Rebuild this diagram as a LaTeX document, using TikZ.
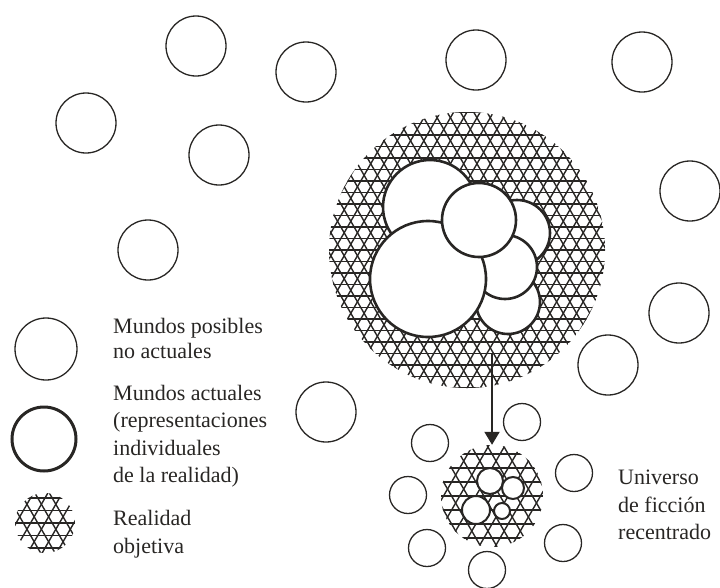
\documentclass[tikz,border=0pt]{standalone}
\usepackage{fontspec}
\setmainfont{Liberation Serif}
\usetikzlibrary{arrows.meta}
\definecolor{ink}{RGB}{40,38,36}
\newcommand\meshfill[3]{%
  \begin{scope}
    \clip (#1) circle (#2);
    \foreach \a/\o in {0/0,60/0,120/0.5}{%
      \begin{scope}[shift={(#1)},rotate=\a]
        \foreach \i in {-24,...,24}
          \draw[meshline] (-#2-6,{(\i+\o)*#3}) -- (#2+6,{(\i+\o)*#3});
      \end{scope}}
  \end{scope}}
\begin{document}
\begin{tikzpicture}[x=1pt,y=-1pt,
  world/.style={circle,draw=ink,line width=1.3pt,inner sep=0pt,minimum size=60pt},
  smallworld/.style={world,minimum size=37pt},
  actual/.style={circle,draw=ink,fill=white,line width=2.6pt,inner sep=0pt},
  tinyactual/.style={actual,line width=2pt},
  meshzone/.style={circle,inner sep=0pt},
  meshline/.style={draw=ink,line width=1.4pt},
  arrowline/.style={draw=ink,line width=2pt,-{Triangle[length=13pt,width=15pt]}},
  label/.style={align=left,inner sep=0pt,text=ink,font=\fontsize{22}{27.5}\selectfont}]
\useasboundingbox (0,0) rectangle (720,587);

% possible worlds (thin circles)
\node[world] (w1) at (196,46) {};
\node[world] (w2) at (306,72) {};
\node[world] (w3) at (476,60) {};
\node[world] (w4) at (642,62) {};
\node[world] (w5) at (86,123) {};
\node[world] (w6) at (219,155) {};
\node[world] (w7) at (690,191) {};
\node[world] (w8) at (148,250) {};
\node[world] (w9) at (679,313) {};
\node[world] (w10) at (608,365) {};
\node[world] (w11) at (326,412) {};

% big objective reality
\node[meshzone,minimum size=276pt] (big) at (467,250) {};
\meshfill{big.center}{138}{11.5}
\node[actual,minimum size=94pt] (a1) at (430,207) {};
\node[actual,minimum size=66pt] (a2) at (517,233) {};
\node[actual,minimum size=64pt] (a3) at (508,302) {};
\node[actual,minimum size=64pt] (a4) at (505,267) {};
\node[actual,minimum size=116pt] (a5) at (428,279) {};
\node[actual,minimum size=74pt] (a6) at (479,220) {};

% recentred fictional universe
\node[meshzone,minimum size=102pt] (small) at (492,496) {};
\meshfill{small.center}{51}{14}
\node[tinyactual,minimum size=26pt] (b1) at (490,481) {};
\node[tinyactual,minimum size=22pt] (b2) at (513,488) {};
\node[tinyactual,minimum size=28pt] (b3) at (476,510) {};
\node[tinyactual,minimum size=16pt] (b4) at (502,511) {};

\coordinate (astart) at (492,353);
\draw[arrowline] (astart) -- (small.north);

\node[smallworld] (s1) at (430,443) {};
\node[smallworld] (s2) at (522,422) {};
\node[smallworld] (s3) at (408,495) {};
\node[smallworld] (s4) at (574,473) {};
\node[smallworld] (s5) at (427,548) {};
\node[smallworld] (s6) at (563,543) {};
\node[smallworld] (s7) at (487,570) {};

% legend
\node[world,minimum size=62pt] (l1) at (46,349) {};
\node[circle,draw=ink,line width=3pt,inner sep=0pt,minimum size=64pt] (l2) at (44,439) {};
\node[meshzone,minimum size=60pt] (l3) at (45,523) {};
\meshfill{l3.center}{30}{12.5}

\node[label,anchor=west,font=\fontsize{22}{25}\selectfont] (t1) at (113,338) {Mundos posibles\\no actuales};
\node[label,anchor=west] (t2) at (113,436) {Mundos actuales\\(representaciones\\individuales\\de la realidad)};
\node[label,anchor=west] (t3) at (113,534) {Realidad\\objetiva};
\node[label,anchor=west] (t4) at (618,505) {Universo\\de ficción\\recentrado};
\end{tikzpicture}
\end{document}
